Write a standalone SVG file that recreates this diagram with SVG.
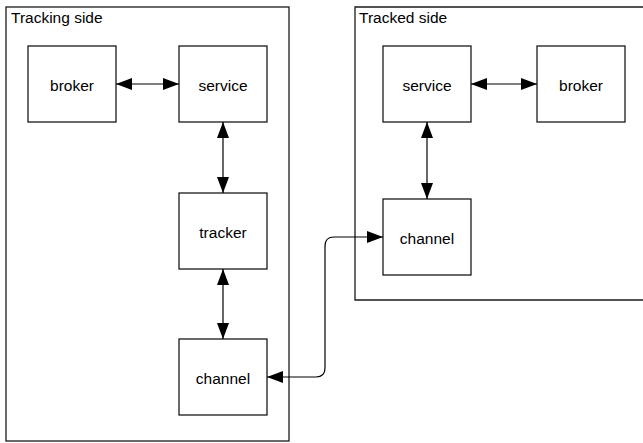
<svg xmlns="http://www.w3.org/2000/svg" width="643" height="443" viewBox="0 0 643 443">
  <style>
    .box { fill: #ffffff; stroke: #1a1a1a; stroke-width: 1.3; }
    .frame { fill: none; stroke: #1a1a1a; stroke-width: 1.3; }
    .label { font-family: "Liberation Sans", Arial, sans-serif; font-size: 15.5px; fill: #000000; }
    .center { text-anchor: middle; dominant-baseline: central; }
    .edge { fill: none; stroke: #000000; stroke-width: 1.2; marker-start: url(#arrow); marker-end: url(#arrow); }
  </style>
  <defs>
    <marker id="arrow" viewBox="0 0 16 12" markerWidth="16" markerHeight="12" refX="16" refY="6" markerUnits="userSpaceOnUse" orient="auto-start-reverse">
      <path d="M0,0 L16,6 L0,12 Z" fill="#000000"/>
    </marker>
  </defs>

  <!-- containers -->
  <g id="tracking-side">
    <rect class="frame" x="6" y="7" width="283" height="434"/>
    <text class="label" x="11" y="23">Tracking side</text>
  </g>
  <g id="tracked-side">
    <path class="frame" d="M645,7 H355 V300 H645"/>
    <text class="label" x="359" y="23">Tracked side</text>
  </g>

  <!-- tracking side nodes -->
  <g id="broker-left">
    <rect class="box" x="28" y="46" width="88" height="76"/>
    <text class="label center" x="72" y="85">broker</text>
  </g>
  <g id="service-left">
    <rect class="box" x="179" y="46" width="88" height="76"/>
    <text class="label center" x="223" y="85">service</text>
  </g>
  <g id="tracker">
    <rect class="box" x="179" y="193" width="88" height="76"/>
    <text class="label center" x="223" y="232">tracker</text>
  </g>
  <g id="channel-left">
    <rect class="box" x="179" y="339" width="88" height="76"/>
    <text class="label center" x="223" y="378">channel</text>
  </g>

  <!-- tracked side nodes -->
  <g id="service-right">
    <rect class="box" x="383" y="46" width="88" height="76"/>
    <text class="label center" x="427" y="85">service</text>
  </g>
  <g id="broker-right">
    <rect class="box" x="537" y="46" width="88" height="76"/>
    <text class="label center" x="581" y="85">broker</text>
  </g>
  <g id="channel-right">
    <rect class="box" x="383" y="199" width="88" height="76"/>
    <text class="label center" x="427" y="238">channel</text>
  </g>

  <!-- connectors -->
  <g id="connectors">
    <path class="edge" d="M116,84 H179"/>
    <path class="edge" d="M223,122 V193"/>
    <path class="edge" d="M223,269 V339"/>
    <path class="edge" d="M471,84 H537"/>
    <path class="edge" d="M427,122 V199"/>
    <path class="edge" d="M267,377 H316 Q325,377 325,368 V246 Q325,237 334,237 H383"/>
  </g>
</svg>
